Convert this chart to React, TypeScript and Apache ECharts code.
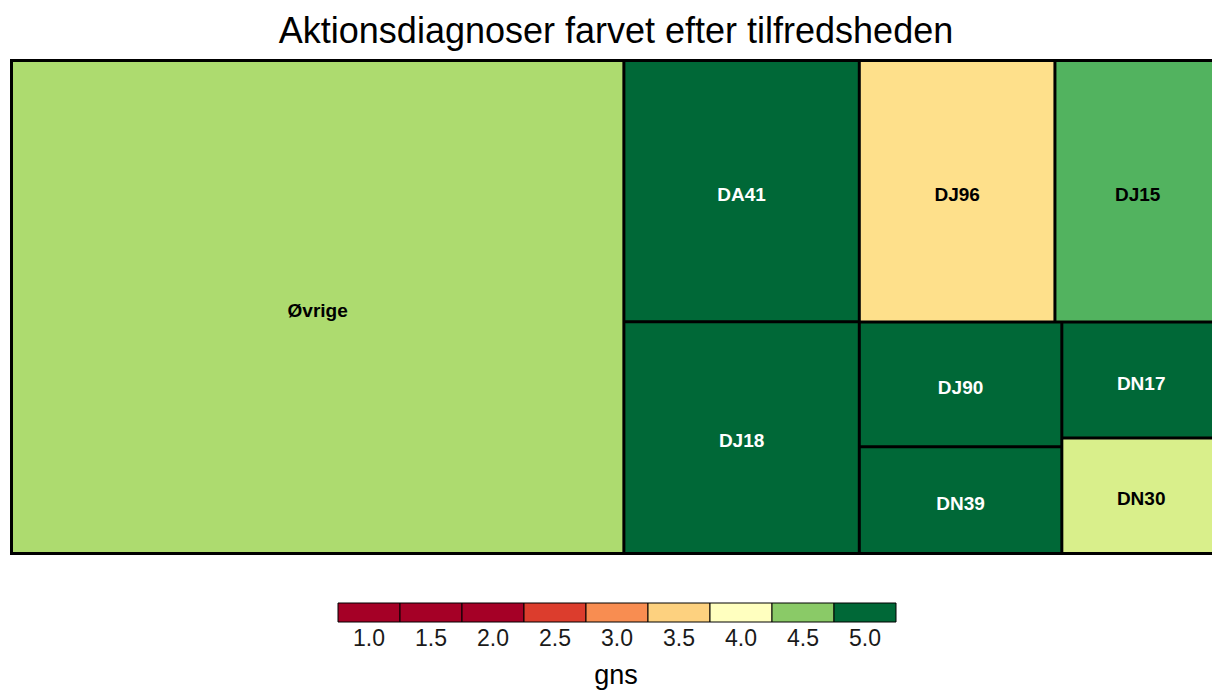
import React, { useEffect, useRef } from "react";
import * as echarts from "echarts";

const titleText = "Aktionsdiagnoser farvet efter tilfredsheden";
const categories = ["Øvrige", "DA41", "DJ18", "DJ96", "DJ15", "DJ90", "DN39", "DN17", "DN30"];
const counts = [3033, 618, 548, 514, 435, 254, 217, 185, 184];
const cellColors = ["#ADDB6F", "#006837", "#006837", "#FEE08B", "#52B35F", "#006837", "#006837", "#006837", "#D9EF8B"];
const labelColors = ["#000", "#fff", "#fff", "#000", "#000", "#fff", "#fff", "#fff", "#000"];
const legendTicks = ["1.0", "1.5", "2.0", "2.5", "3.0", "3.5", "4.0", "4.5", "5.0"];
const legendColors = ["#A50026", "#A50026", "#A50026", "#DC3D2D", "#F88D51", "#FDD17F", "#FFFFBF", "#8ACA67", "#006837"];
const legendTitle = "gns";

const FONT = "'Liberation Sans', Arial, sans-serif";

export default function App() {
  const ref = useRef<HTMLDivElement>(null);
  useEffect(() => {
    if (!ref.current) return;
    const chart = echarts.init(ref.current, null, { renderer: "svg" });
    const data = categories.map((name, i) => ({
      name,
      value: counts[i],
      itemStyle: { color: cellColors[i] },
      label: { color: labelColors[i] },
    }));
    const bx = 338;
    const bw = 62;
    const by = 603;
    const bh = 19;
    const legendEls: any[] = [];
    legendColors.forEach((c, i) => {
      legendEls.push({
        type: "rect",
        shape: { x: bx + i * bw, y: by, width: bw, height: bh },
        style: { fill: c, stroke: "#000", lineWidth: 1 },
      });
    });
    legendTicks.forEach((t, i) => {
      legendEls.push({
        type: "text",
        x: bx + i * bw + bw / 2,
        y: 638,
        style: { text: t, fill: "#1a1a1a", font: `23px ${FONT}`, textAlign: "center", textVerticalAlign: "middle" },
      });
    });
    legendEls.push({
      type: "text",
      x: 616,
      y: 675,
      style: { text: legendTitle, fill: "#000", font: `27px ${FONT}`, textAlign: "center", textVerticalAlign: "middle" },
    });
    legendEls.push({
      type: "text",
      x: 616,
      y: 30,
      style: { text: titleText, fill: "#000", font: `36px ${FONT}`, textAlign: "center", textVerticalAlign: "middle" },
    });
    chart.setOption({
      animation: false,
      backgroundColor: "#fff",
      graphic: legendEls,
      series: [
        {
          type: "treemap",
          left: 10,
          top: 59,
          width: 1212,
          height: 496,
          roam: false,
          nodeClick: false,
          squareRatio: 1,
          breadcrumb: { show: false },
          itemStyle: { borderColor: "#000", borderWidth: 1.5, gapWidth: 0 },
          label: {
            show: true,
            position: "inside",
            align: "center",
            verticalAlign: "middle",
            offset: [0, 3],
            fontSize: 19,
            fontWeight: "bold",
            fontFamily: FONT,
          },
          data,
        },
      ],
    });
    return () => chart.dispose();
  }, []);
  return <div ref={ref} style={{ position: "fixed", left: 0, top: 0, width: 1212, height: 691 }} />;
}
